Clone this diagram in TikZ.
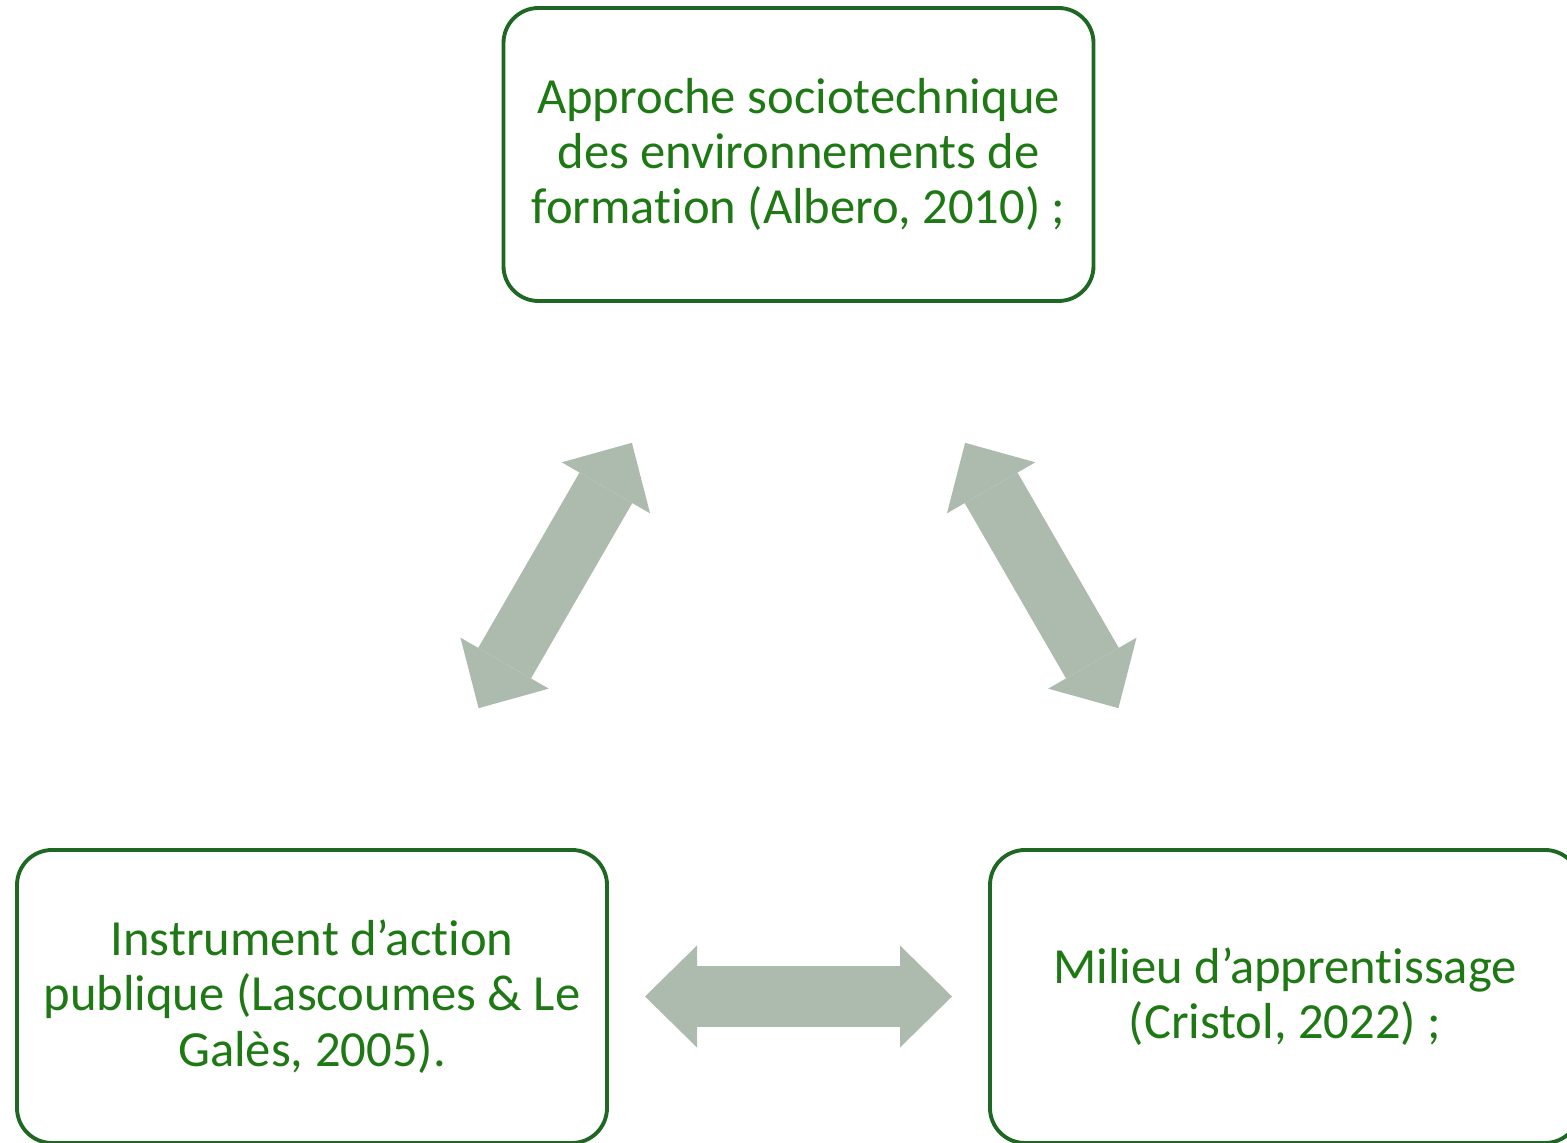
\documentclass[tikz,border=0pt]{standalone}
\usepackage{fontspec}
\setmainfont{Carlito}[Ligatures=CommonOff]
\usetikzlibrary{arrows.meta}
\definecolor{boxGreen}{RGB}{30,104,36}
\definecolor{textGreen}{RGB}{30,120,20}
\definecolor{arrowGrey}{RGB}{173,186,174}
\newcommand{\boxFont}[0]{\fontsize{14.4}{15.75}\selectfont}

\begin{document}
\begin{tikzpicture}
  \tikzset{frame/.style={draw=boxGreen, line width=1.1pt, rounded corners=0.35cm,
      text=textGreen, align=center, font=\boxFont,
      minimum width=5.9cm, minimum height=2.93cm},
    link/.style={arrowGrey, line width=0.61cm,
      >={Triangle[length=0.52cm,width=1.02cm,line width=0pt]}, <->,
      shorten <=3.33cm, shorten >=3.33cm}}
  \path[use as bounding box, clip] (0,0) rectangle (15.67,11.43);
  \node[frame] (approche) at (7.985,9.885)
    {Approche sociotechnique\\des environnements de\\formation (Albero, 2010) ;};
  \node[frame] (instrument) at (3.12,1.465)
    {Instrument d’action\\publique (Lascoumes \& Le\\Galès, 2005).};
  \node[frame] (milieu) at (12.85,1.465)
    {Milieu d’apprentissage\\(Cristol, 2022) ;};
  \draw[link] (approche.center) -- (instrument.center);
  \draw[link] (approche.center) -- (milieu.center);
  \draw[link] (instrument.center) -- (milieu.center);
\end{tikzpicture}
\end{document}
